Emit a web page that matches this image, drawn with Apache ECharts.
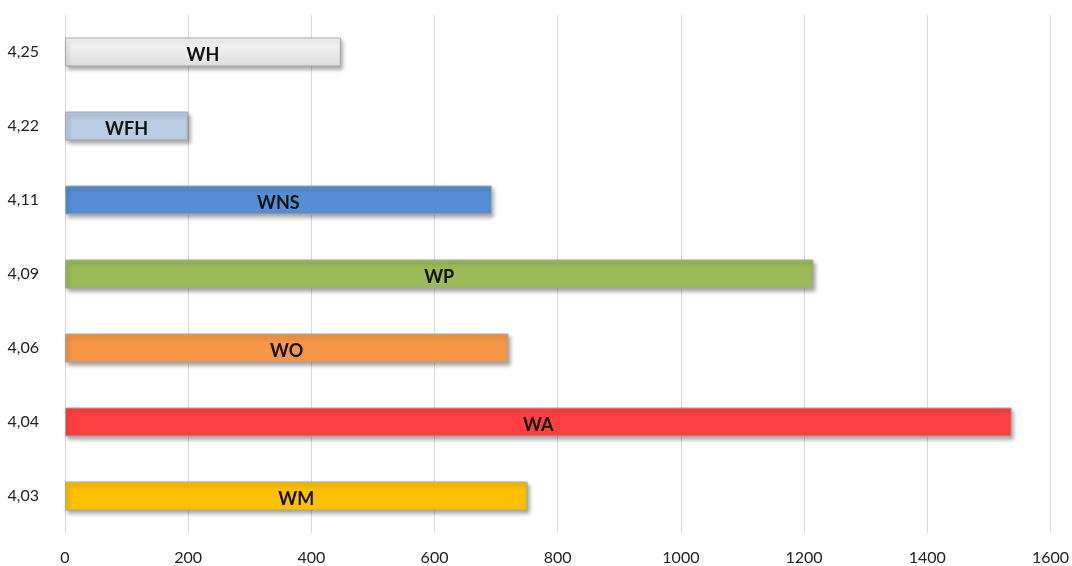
<!DOCTYPE html>
<html>
<head>
<meta charset="utf-8">
<script src="https://cdn.jsdelivr.net/npm/echarts@6/dist/echarts.min.js"></script>
<style>
  html, body { margin: 0; padding: 0; background: #fff; }
  #chart { width: 1072px; height: 566px; }
</style>
</head>
<body>
<div id="chart"></div>
<script>
// categories bottom to top
const categories = ['4,03', '4,04', '4,06', '4,09', '4,11', '4,22', '4,25'];
const barNames = ['WM', 'WA', 'WO', 'WP', 'WNS', 'WFH', 'WH'];
const values = [751, 1537, 720, 1215, 693, 200, 448];
const barColors = ['#ffc000', '#ff4040', '#f79646', '#9bbb59', '#558ed5', '#b9cde5', '#e6e6e6'];

const chart = echarts.init(document.getElementById('chart'));

const option = {
  animation: false,
  textStyle: { fontFamily: 'Lato' },
  grid: { left: 65, right: 21, top: 15, bottom: 33 },
  xAxis: {
    type: 'value',
    min: 0,
    max: 1600,
    interval: 200,
    axisLine: { show: false },
    axisTick: { show: false },
    splitLine: { lineStyle: { color: '#d9d9d9', width: 1 } },
    axisLabel: { color: '#222', fontSize: 16, margin: 17, formatter: v => String(v) }
  },
  yAxis: {
    type: 'category',
    data: categories,
    axisLine: { show: false },
    axisTick: { show: false },
    axisLabel: { color: '#222', fontSize: 16, margin: 26 }
  },
  series: [{
    type: 'bar',
    barWidth: 29,
    data: values.map((v, i) => ({
      value: v,
      name: barNames[i],
      itemStyle: {
        color: i === 6
          ? new echarts.graphic.LinearGradient(0, 0, 0, 1, [
              { offset: 0, color: '#fafafa' },
              { offset: 1, color: '#dedede' }
            ])
          : barColors[i]
      }
    })),
    itemStyle: {
      borderColor: '#a6a6a6',
      borderWidth: 1,
      shadowColor: 'rgba(0,0,0,0.35)',
      shadowBlur: 4,
      shadowOffsetX: 2,
      shadowOffsetY: 3
    },
    label: {
      show: true,
      position: 'inside',
      formatter: p => p.name,
      color: '#111',
      fontWeight: 'bold',
      fontSize: 18,
      offset: [0, 3]
    }
  }]
};

chart.setOption(option);
</script>
</body>
</html>
